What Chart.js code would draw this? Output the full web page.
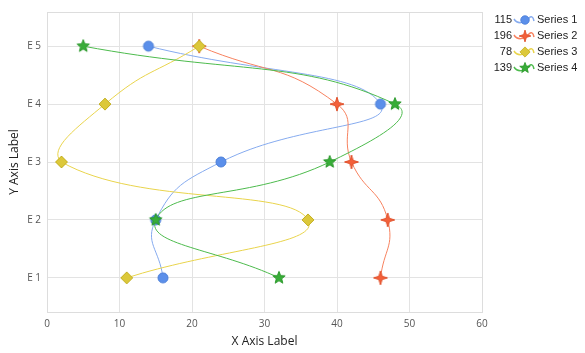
<!DOCTYPE html>
<html>
<head>
<meta charset="utf-8">
<script src="https://cdn.jsdelivr.net/npm/chart.js@4/dist/chart.umd.min.js"></script>
<style>
  html, body { margin: 0; padding: 0; background: #fff; }
  #wrap { width: 585px; height: 353px; }
</style>
</head>
<body>
<div id="wrap"><canvas id="myChart" width="585" height="353"></canvas></div>
<script>
// data
var yLabels = ["E 1", "E 2", "E 3", "E 4", "E 5"];
var seriesNames = ["Series 1", "Series 2", "Series 3", "Series 4"];
var series1 = [16, 15, 24, 46, 14];
var series2 = [46, 47, 42, 40, 21];
var series3 = [11, 36, 2, 8, 21];
var series4 = [32, 15, 39, 48, 5];

var lineColors = ["#86abef", "#f7825f", "#e9d44c", "#4dbb4d"];
var fillColors = ["#5b8fea", "#f4603a", "#dcc83a", "#38ad38"];
var edgeColors = ["#4a7ed8", "#e0502a", "#c4b024", "#2a982a"];

function toPoints(arr) {
    return arr.map(function (v, i) { return { x: v, y: i + 1 }; });
}

// custom marker images
function makeMarker(kind, fill, edge, scale) {
    var c = document.createElement('canvas');
    c.width = 16; c.height = 16;
    var g = c.getContext('2d');
    g.translate(8, 8);
    g.scale(scale, scale);
    g.beginPath();
    if (kind === 'circle') {
        g.arc(0, 0, 5, 0, Math.PI * 2);
    } else if (kind === 'diamond') {
        g.moveTo(0, -6); g.lineTo(6, 0); g.lineTo(0, 6); g.lineTo(-6, 0);
    } else {
        var n = kind === 'star4' ? 4 : 5;
        var ro = kind === 'star4' ? 7 : 6.5, ri = kind === 'star4' ? 2.3 : 2.8;
        for (var i = 0; i < n * 2; i++) {
            var r = i % 2 ? ri : ro;
            var a = -Math.PI / 2 + i * Math.PI / n;
            g.lineTo(Math.cos(a) * r, Math.sin(a) * r);
        }
    }
    g.closePath();
    g.fillStyle = fill;
    g.fill();
    g.lineWidth = 1;
    g.strokeStyle = edge;
    g.stroke();
    return c;
}

var kinds = ['circle', 'star4', 'diamond', 'star5'];
var markers = kinds.map(function (k, i) { return makeMarker(k, fillColors[i], edgeColors[i], 1); });
var legendMarkers = kinds.map(function (k, i) { return makeMarker(k, fillColors[i], edgeColors[i], 0.85); });
var allSeries = [series1, series2, series3, series4];

var datasets = allSeries.map(function (s, i) {
    return {
        label: seriesNames[i],
        data: toPoints(s),
        showLine: true,
        borderColor: lineColors[i],
        borderWidth: 1,
        tension: 0.5,
        pointStyle: markers[i],
        pointRadius: 6,
        order: 3 - i
    };
});

// frame + right side legend
var extras = {
    id: 'extras',
    beforeDatasetsDraw: function (chart) {
        var a = chart.chartArea, ctx = chart.ctx;
        ctx.save();
        ctx.strokeStyle = '#dddddd';
        ctx.lineWidth = 1;
        ctx.strokeRect(Math.round(a.left) + 0.5, Math.round(a.top) + 0.5,
            Math.round(a.right - a.left), Math.round(a.bottom - a.top));
        ctx.restore();
    },
    afterDraw: function (chart) {
        var ctx = chart.ctx;
        ctx.save();
        ctx.font = '11px "Liberation Sans", Arial, sans-serif';
        ctx.textBaseline = 'middle';
        allSeries.forEach(function (s, i) {
            var y = 20 + i * 16;
            var total = s.reduce(function (p, v) { return p + v; }, 0);
            ctx.fillStyle = '#222';
            ctx.textAlign = 'right';
            ctx.fillText(String(total), 512, y);
            ctx.textAlign = 'left';
            ctx.fillText(seriesNames[i], 537, y);
            ctx.beginPath();
            ctx.moveTo(514, y - 1);
            ctx.bezierCurveTo(517, y + 4, 524, y + 4, 529, y - 2);
            ctx.bezierCurveTo(531, y - 4, 533, y - 4, 534, y + 1);
            ctx.strokeStyle = lineColors[i];
            ctx.lineWidth = 1.5;
            ctx.stroke();
            ctx.drawImage(legendMarkers[i], 525 - 8, y - 8);
        });
        ctx.restore();
    }
};

var ctx = document.getElementById("myChart").getContext("2d");
var myChart = new Chart(ctx, {
    type: "scatter",
    data: { datasets: datasets },
    plugins: [extras],
    options: {
        responsive: false,
        animation: false,
        layout: { padding: { top: 10, right: 103, left: 0, bottom: 0 } },
        plugins: { legend: { display: false }, tooltip: { enabled: false } },
        scales: {
            x: {
                type: 'linear',
                min: 0, max: 60,
                ticks: { stepSize: 10, color: '#555', font: { family: 'Open Sans', size: 10 }, padding: 6 },
                grid: { color: '#e3e3e3', tickLength: 0 },
                border: { color: '#dddddd' },
                title: { display: true, text: 'X Axis Label', color: '#222', font: { family: 'Open Sans', size: 12 }, padding: { top: 0, bottom: 4 } },
                afterFit: function (scale) { scale.height = 41; }
            },
            y: {
                type: 'linear',
                min: 0.41, max: 5.59,
                afterBuildTicks: function (scale) {
                    scale.ticks = yLabels.map(function (l, i) { return { value: i + 1 }; });
                },
                ticks: {
                    color: '#555', font: { family: 'Open Sans', size: 10 }, padding: 6,
                    callback: function (v) { return yLabels[v - 1]; }
                },
                grid: { color: '#e3e3e3', tickLength: 0 },
                border: { color: '#dddddd' },
                title: { display: true, text: 'Y Axis Label', color: '#222', font: { family: 'Open Sans', size: 12 }, padding: { top: 7, bottom: 0 } },
                afterFit: function (scale) { scale.width = 47; }
            }
        }
    }
});
</script>
</body>
</html>
